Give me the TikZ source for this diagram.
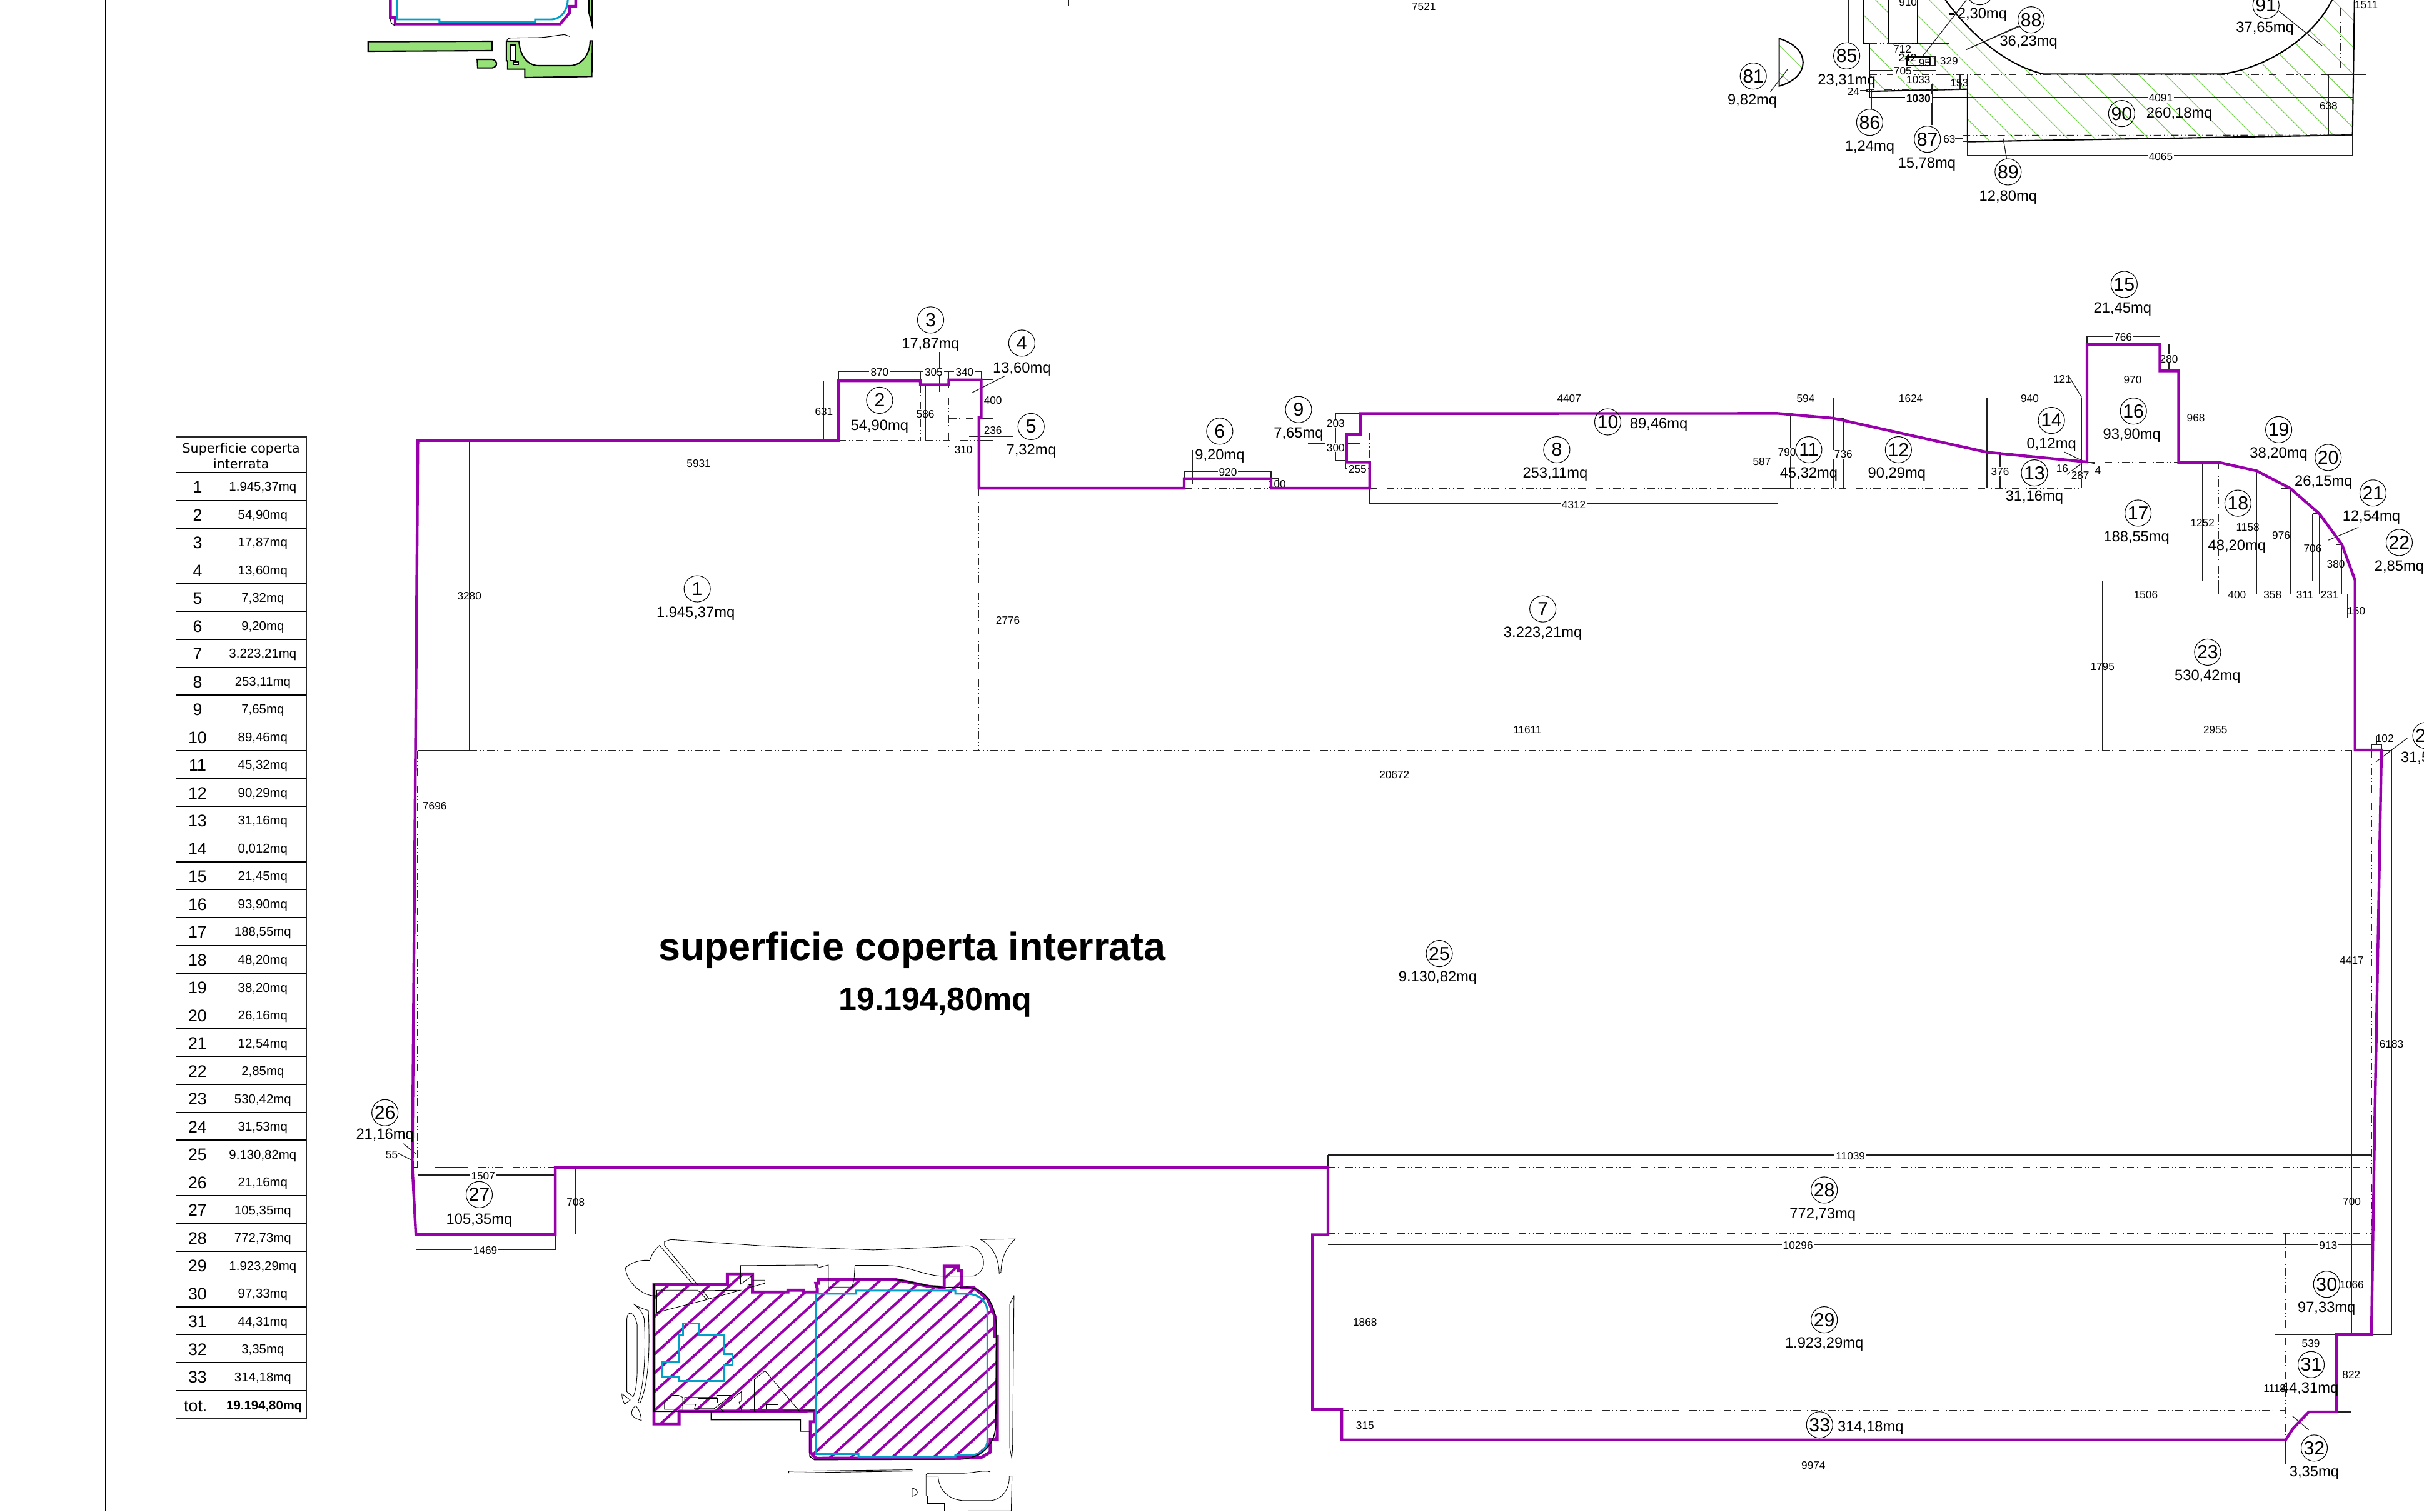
\documentclass[tikz,border=0pt]{standalone}
\usepackage{fontspec}
\setmainfont{Liberation Sans}
\newfontfamily\dejavufam{DejaVu Sans}
\definecolor{pur}{RGB}{152,0,172}
\definecolor{cya}{RGB}{0,160,200}
\definecolor{hgreen}{RGB}{110,210,70}
\definecolor{fgreen}{RGB}{150,225,120}
\tikzset{
 thinl/.style={line width=.33pt,black!88},
 ddl/.style={line width=.33pt,black!85,dash pattern=on 3.4pt off 1.3pt on .3pt off 1.3pt on .3pt off 1.3pt},
 purl/.style={line width=1.25pt,pur,line join=miter},
 cyal/.style={line width=.85pt,cya,line join=miter},
 blk/.style={line width=.6pt,black},
 numc/.style={circle,draw,line width=.3pt,inner sep=0pt,minimum size=.42cm,font=\fontsize{8.6}{9}\selectfont},
 vals/.style={yshift=-.55pt,inner sep=0pt,font=\fontsize{6.75}{8}\selectfont,text height=4.8pt,text depth=1.3pt},
 dimh/.style={yshift=-.3pt,fill=white,inner xsep=.6pt,inner ysep=.2pt,font=\fontsize{4.9}{6}\selectfont,text height=3.5pt,text depth=0pt},
 dimv/.style={yshift=-.3pt,inner sep=0pt,font=\fontsize{4.9}{6}\selectfont,text height=3.5pt,text depth=0pt},
 zone/.style={shift={(1071.75,0)},xscale=.31646,yscale=.13481},
 zten/.style={shift={(1193.08,0)},xscale=.13481,yscale=.13481},
 zfive/.style={shift={(384.2,788.6)},xscale=.18055,yscale=.13481},
 ztop/.style={shift={(202.2,0)},xscale=.15477,yscale=.13481},
}
\newcommand{\ncc}[3]{\node[numc] (n#3) at (#1,#2) {#3};}
\newcommand{\vtt}[3]{\node[vals] at (#1,#2) {#3};}
\newcommand{\dhz}[3]{\node[dimh] at (#1,#2) {#3};}
\newcommand{\dvt}[3]{\node[dimv] at (#1,#2) {#3};}
\begin{document}
\begin{tikzpicture}[x=.024726cm,y=-.024726cm]
\useasboundingbox (0,0) rectangle (1568,978);
\clip (0,0) rectangle (1568,978);
\draw[line width=.55pt,black] (68.5,0) -- (68.5,978);

% ---------- top-left fragment
\begin{scope}[ztop]
 \draw[purl] (325,-10) -- (325,85) -- (345,85) -- (345,115) -- (1035,115) -- (1075,60) -- (1075,30) -- (1100,30) -- (1100,-10);
 \draw[line width=.3pt] (325,90) .. controls (325,108) and (332,120) .. (345,122);
 \draw[cyal] (352,-10) -- (352,93) -- (530,93) -- (530,105) -- (930,105) -- (930,93) -- (1000,93) .. controls (1040,90) and (1067,50) .. (1067,-10);
 \draw[blk,fill=fgreen] (232,200) -- (750,198) -- (750,243) -- (232,246) -- cycle;
 \draw[blk,fill=fgreen] (688,285) -- (750,285) .. controls (775,290) and (775,322) .. (750,326) -- (690,326) -- cycle;
 \draw[blk,fill=fgreen] (810,198) -- (863,198) .. controls (865,260) and (895,315) .. (945,315) -- (1075,315) .. controls (1125,315) and (1160,260) .. (1160,196) -- (1170,196) -- (1167,367) -- (887,372) -- (887,332) -- (815,332) -- (815,292) -- (810,292) -- cycle;
 \draw[blk,fill=white] (828,215) rectangle (850,290);
 \draw[blk,fill=white] (840,298) rectangle (860,310);
 \draw[line width=.3pt] (812,198) .. controls (812,186) and (820,182) .. (830,182) -- (950,180) .. controls (990,178) and (1040,165) .. (1055,167) -- (1075,175);
 \draw[blk,fill=fgreen] (1155,-5) -- (1168,-5) -- (1168,118) -- (1155,60) -- cycle;
\end{scope}

% ---------- top-right fragment
\begin{scope}[zone]
 \begin{scope}
  \clip (423,-5) -- (423,210) -- (435,210) -- (435,438) -- (635,428) -- (635,680) -- (1422,648) -- (1428,-5) -- (1380,-5) -- (1380,0) .. controls (1340,190) and (1240,330) .. (1155,355) -- (790,355) .. controls (710,310) and (640,160) .. (590,0) -- (590,-5) -- cycle;
  \foreach \a in {60,115,...,1500} \draw[hgreen,line width=.3pt] (\a,-5) -- ({\a+298},695);
 \end{scope}
 \begin{scope}
  \clip (250,185) .. controls (315,230) and (315,370) .. (250,413) -- cycle;
  \foreach \a in {120,175,230,285} \draw[hgreen,line width=.3pt] (\a,170) -- ({\a+128},470);
 \end{scope}
 \draw[blk] (250,185) .. controls (315,230) and (315,370) .. (250,413) -- cycle;
 \draw[blk] (590,-5) -- (590,0) .. controls (640,160) and (710,310) .. (790,355) -- (1155,355) .. controls (1240,330) and (1340,190) .. (1380,0) -- (1381,-5);
 \draw[blk] (635,428) -- (635,680) -- (1422,648) -- (1426,-5);
 \draw[ddl] (625,650) -- (1422,648);
 \draw[ddl] (435,358) -- (1373,358);
 \draw[ddl] (1398,40) -- (1398,358);
 \draw[thinl] (1373,358) -- (1450,358) -- (1450,-5);
 \draw[thinl] (1373,358) -- (1373,648);
 \draw[thinl] (635,467) -- (1422,467);
 \draw[thinl] (635,680) -- (635,747) -- (1422,747) -- (1422,648);
 \draw[thinl] (625,650) rectangle (636,678);
 \draw[thinl] (610,665) -- (625,665);
 \draw[thinl] (708,665) -- (715,762);
 \draw[thinl] (743,125) -- (632,238);
 \draw[thinl] (1270,50) -- (1360,220);
 \draw[thinl] (267,333) -- (232,440);
 \draw[thinl] (392,0) -- (392,205);
 \dhz{1030}{467}{4091}\dhz{1030}{747}{4065}\dvt{1373}{505}{638}\dvt{598}{665}{63}\dvt{1450}{20}{1511}
 \ncc{197}{365}{81}\vtt{195}{478}{9,82mq}
 \ncc{388}{268}{85}\vtt{388}{383}{23,31mq}
 \ncc{435}{587}{86}\vtt{435}{700}{1,24mq}
 \ncc{553}{668}{87}\vtt{552}{782}{15,78mq}
 \ncc{718}{825}{89}\vtt{718}{940}{12,80mq}
 \ncc{765}{95}{88}\vtt{760}{197}{36,23mq}
 \vtt{665}{65}{2,30mq}
 \node[circle,draw,line width=.3pt,minimum size=.42cm,inner sep=0pt] (cut) at (660,-40) {};
 \ncc{1245}{25}{91}\vtt{1243}{130}{37,65mq}
 \ncc{950}{545}{90}\vtt{1068}{540}{260,18mq}
\end{scope}
\begin{scope}[zten]
 \draw[blk] (90,-5) -- (90,210) -- (120,210) -- (120,468) -- (590,468);
 \draw[blk] (130,438) -- (590,428);
 \draw[blk,fill=white] (213,-5) -- (213,210) -- (350,210) -- (350,-5);
 \draw[thinl] (305,-5) -- (305,210);
 \draw[ddl] (120,210) -- (500,210);
 \draw[ddl] (440,-5) -- (440,230);
 \draw[ddl] (108,430) -- (590,430);
 \draw[thinl] (350,210) -- (502,210) -- (502,358) -- (440,358) -- (440,338) -- (120,338);
 \draw[thinl] (120,230) -- (440,230);
 \draw[thinl] (120,373) -- (590,373);
 \draw[thinl] (555,358) -- (555,430);
 \draw[thinl] (590,358) -- (590,430);
 \draw[blk,line width=.8pt] (300,272) rectangle (413,315);
 \draw[thinl] (413,272) rectangle (435,315);
 \draw[thinl] (108,428) rectangle (130,440);
 \draw[thinl] (75,433) -- (108,433);
 \draw[thinl] (130,440) -- (130,525);
 \draw[thinl] (420,405) -- (420,600);
 \draw[thinl] (75,260) -- (135,260);
 \draw[thinl] (585,0) -- (375,270);
 \draw[blk,line width=.8pt] (500,67) -- (525,67);
 \draw[thinl] (835,125) -- (585,238);
 \dvt{305}{8}{910}
 \dhz{278}{232}{712}\dvt{303}{275}{242}\dvt{385}{297}{95}\dhz{502}{288}{329}\dhz{280}{338}{705}\dhz{355}{378}{1033}\dvt{552}{395}{153}\dvt{43}{436}{24}
 \node[dimh,font=\fontsize{5}{6}\selectfont\bfseries] at (355,468) {1030};
\end{scope}
\draw[thinl] (691,-5) -- (691,3.8) -- (1150,3.8) -- (1150,-5);
\dhz{921}{3.8}{7521}

% ---------- long thin dimension lines of the main plan
\draw[thinl] (270,299.5) -- (633,299.5);
\draw[thinl] (281.2,285) -- (281.2,755.5) -- (300,755.5);
\draw[thinl] (303.6,285) -- (303.6,485.5);
\draw[ddl] (270,485.5) -- (1523.4,485.5);
\draw[thinl] (270,485.5) -- (303.6,485.5);
\draw[thinl] (269.5,501) -- (1534,501);
\draw[thinl] (633,471.6) -- (1523.4,471.6);
\draw[ddl] (633,316) -- (633,485.5);
\draw[thinl] (652,316) -- (652,485.5);
\draw[ddl] (270,486) -- (270,755.5);
\draw[ddl] (1534.1,485.5) -- (1534.1,863.5);
\draw[thinl] (1521.3,485.5) -- (1521.3,863.5);
\draw[thinl] (1547,485.5) -- (1547,863.5) -- (1534,863.5);
\draw[thinl] (1523.4,485.5) -- (1547,485.5);
\draw[thinl] (1534.1,482) rectangle (1540.5,485.5);
\draw[thinl] (1537.3,476.5) -- (1537.3,482);
\draw[thinl] (1557.3,477.5) -- (1536.9,493);

% block 2-5
\draw[ddl] (542.4,285) -- (633,285);
\draw[ddl] (595.4,249) -- (595.4,285);
\draw[ddl] (613.8,246) -- (613.8,290.5);
\draw[ddl] (613.8,270.6) -- (634,270.6);
\draw[thinl] (542.4,246.4) -- (542.4,240.2) -- (634.7,240.2) -- (634.7,245.8);
\draw[thinl] (595.4,240.2) -- (595.4,246.4);
\draw[thinl] (613.8,240.2) -- (613.8,245.8);
\draw[thinl] (542.4,246.4) -- (533,246.4) -- (533,285) -- (542.4,285);
\draw[thinl] (598.6,249) -- (598.6,285);
\draw[thinl] (607.5,227.8) -- (607.5,253.5);
\draw[thinl] (634.7,245.8) -- (642.3,245.8) -- (642.3,285) -- (633,285);
\draw[thinl] (634,270.6) -- (642.3,270.6);
\draw[thinl] (627,282.6) -- (655.6,282.6);
\draw[thinl] (613.8,290.5) -- (633,290.5);
\draw[thinl] (650,243.3) -- (629,254);
\dhz{569}{240.2}{870}\dhz{604}{240.2}{305}\dhz{624}{240.2}{340}
\dvt{533}{266}{631}\dvt{598.6}{267.4}{586}\dhz{642.3}{258.5}{400}\dhz{642.3}{278}{236}\dhz{623.3}{290.5}{310}

% block 6,9
\draw[ddl] (766,316) -- (822,316);
\draw[thinl] (766,309.7) -- (766,305) -- (822.2,305) -- (822.2,309.7) -- (827,309.7) -- (827,316);
\draw[thinl] (771.3,291) -- (771.3,313.6);
\draw[thinl] (880,267.6) -- (864,267.6) -- (864,298) -- (871,298);
\draw[thinl] (864,280) -- (871,280);
\draw[thinl] (846,287) -- (879.7,287);
\draw[thinl] (870.5,299) -- (870.5,303) -- (886,303);
\dhz{794.3}{305}{920}\dvt{826}{312.8}{100}\dhz{864}{273.7}{203}\dhz{864}{289.2}{300}\dhz{878.2}{303}{255}

% block 7,8,10..14
\draw[thinl] (880,267.6) -- (880,257.3) -- (1346.5,257.3);
\draw[ddl] (886,280) -- (1150,280);
\draw[ddl] (886,280) -- (886,316);
\draw[ddl] (886,316) -- (1346.5,316);
\draw[thinl] (886,316) -- (886,326) -- (1150,326) -- (1150,316);
\draw[ddl] (1150,267.5) -- (1150,316);
\draw[thinl] (1150,257.3) -- (1150,267.5);
\draw[thinl] (1140.4,280) -- (1140.4,316);
\draw[thinl] (1140.4,316) -- (1158,316);
\draw[thinl] (1158,267.5) -- (1158,316);
\draw[thinl] (1186,257.3) -- (1186,316);
\draw[thinl] (1186,270.6) -- (1192.4,270.6) -- (1192.4,316);
\draw[thinl] (1285.3,257.3) -- (1285.3,316);
\draw[thinl] (1293.8,292.6) -- (1293.8,316);
\draw[thinl] (1342.8,257.3) -- (1342.8,316);
\draw[thinl] (1346.5,257.3) -- (1346.5,316);
\draw[thinl] (1338,243) -- (1346.5,257);
\draw[thinl] (1335.4,292.5) -- (1348,298.6);
\draw[thinl] (1337,307) -- (1348,298.6);
\draw[thinl] (1350,298.9) -- (1355,300);
\dhz{1015}{257.3}{4407}\dhz{1168}{257.3}{594}\dhz{1236}{257.3}{1624}\dhz{1313}{257.3}{940}\dvt{1334}{245}{121}
\dhz{1018}{326}{4312}\dvt{1139.7}{298}{587}\dhz{1155.9}{292}{790}\dhz{1192.4}{293.5}{736}\dhz{1293.8}{304.6}{376}
\dvt{1334}{302.6}{16}\dhz{1345.6}{307}{287}\dvt{1357}{303.8}{4}

% block 15..23
\draw[ddl] (1350,240) -- (1397,240);
\draw[ddl] (1350,299.3) -- (1409,299.3);
\draw[thinl] (1350,222.7) -- (1350,217.6) -- (1397.1,217.6) -- (1397.1,222.7) -- (1403,222.7) -- (1403,240) -- (1397,240);
\draw[thinl] (1350,245.4) -- (1409.3,245.4);
\draw[thinl] (1409.3,240) -- (1420.4,240) -- (1420.4,299.1);
\draw[thinl] (1424.7,299.1) -- (1424.7,376);
\draw[ddl] (1435,299) -- (1435,376);
\draw[thinl] (1435,376) -- (1435,384.4);
\draw[thinl] (1454,304.6) -- (1454,376);
\draw[thinl] (1459.6,304.6) -- (1459.6,384.4);
\draw[thinl] (1475.6,315.9) -- (1475.6,376);
\draw[thinl] (1481.4,315.9) -- (1481.4,384.4);
\draw[thinl] (1496,332.4) -- (1496,376);
\draw[thinl] (1500.3,332.4) -- (1500.3,384.4);
\draw[thinl] (1511,352.3) -- (1511,376);
\draw[thinl] (1514.9,352.3) -- (1514.9,384.4);
\draw[thinl] (1475.6,315.9) -- (1481.4,315.9) (1496,332.4) -- (1500.3,332.4) (1511,352.3) -- (1514.9,352.3);
\draw[thinl] (1471.4,300.6) -- (1471.4,324.6);
\draw[thinl] (1491,317) -- (1491,337);
\draw[thinl] (1525.6,341.2) -- (1506.2,349.5);
\draw[thinl] (1517.8,372.7) -- (1554,372.7);
\draw[ddl] (1343,316) -- (1343,376);
\draw[ddl] (1343,376) -- (1523.6,376);
\draw[thinl] (1343,376) -- (1360,376) -- (1360,485.5);
\draw[thinl] (1343,384.4) -- (1518.4,384.4) -- (1518.4,400);
\draw[ddl] (1343,384.4) -- (1343,485.5);
\dhz{1373.3}{217.6}{766}\dhz{1379.5}{245.4}{970}\dhz{1403}{231.7}{280}\dhz{1420.4}{269.7}{968}
\dvt{1424.7}{337.7}{1252}\dvt{1454}{340.7}{1158}\dvt{1475.6}{346}{976}\dvt{1496}{354.4}{706}\dvt{1511}{364.4}{380}
\dhz{1388}{384.4}{1506}\dhz{1447}{384.4}{400}\dhz{1470}{384.4}{358}\dhz{1491}{384.4}{311}\dhz{1507}{384.4}{231}\dvt{1524.2}{394.7}{150}

% bottom
\draw[thinl] (859,747.4) -- (1534,747.4);
\draw[thinl] (859,747.4) -- (859,755.5);
\draw[ddl] (359,755.5) -- (300,755.5);
\draw[ddl] (859,755.5) -- (1534,755.5);
\draw[ddl] (859,798) -- (1534,798);
\draw[thinl] (859,805.5) -- (1534,805.5);
\draw[thinl] (883,798.7) -- (883,931.7);
\draw[ddl] (868,912.8) -- (1478.3,912.8);
\draw[ddl] (1478.3,798) -- (1478.3,931.7);
\draw[thinl] (1478.3,798) -- (1478.3,805.5);
\draw[thinl] (1471.4,931.7) -- (1471.4,863.5) -- (1511,863.5);
\draw[thinl] (1478.3,869) -- (1511,869);
\draw[thinl] (1511,913.6) -- (1521,913.6) -- (1521,863.5);
\draw[thinl] (868,931.7) -- (868,947.5) -- (1478.3,947.5) -- (1478.3,931.7);
\draw[thinl] (1483,916.4) -- (1493.4,925.2);
\draw[thinl] (270,760.3) -- (358.6,760.3);
\draw[thinl] (269,798.7) -- (269,808.5) -- (359.2,808.5) -- (359.2,798.7);
\draw[thinl] (359.2,755.5) -- (372.4,755.5) -- (372.4,798.7) -- (359.2,798.7);
\draw[thinl] (260.9,740) -- (269.3,746.9);
\draw[thinl] (257.5,746.2) -- (266.1,750.6);
\draw[thinl] (267.6,751.4) rectangle (270,755.5);
\dvt{281.2}{521}{7696}
\dvt{303.6}{385}{3280}\dhz{452}{299.5}{5931}\dhz{902}{501}{20672}\dhz{988}{471.6}{11611}\dhz{1433}{471.6}{2955}\dvt{652}{401}{2776}\dvt{1360}{431}{1795}
\dvt{1542.6}{477.2}{102}\dvt{1521.3}{621}{4417}\dvt{1547}{675}{6183}\dvt{1521.3}{777}{700}
\dhz{1197}{747.4}{11039}\dhz{1163}{805.5}{10296}\dhz{1506}{805.5}{913}\dvt{1521.3}{831}{1066}\dhz{1494.8}{869}{539}\dvt{1521}{889}{822}\dvt{1471.4}{898}{1118}
\dvt{883}{855}{1868}\dvt{883}{922}{315}\dhz{1173}{947.5}{9974}
\dhz{312.5}{760.3}{1507}\dhz{313.9}{808.5}{1469}\dvt{372.4}{777.4}{708}\dvt{253.4}{746.6}{55}

% purple outline
\draw[purl] (270.3,285) -- (542.4,285) -- (542.4,246.4) -- (595.4,246.4) -- (595.4,249) -- (613.8,249) -- (613.8,245.8) -- (634.7,245.8) -- (634.7,270.3) -- (633.3,270.3) -- (633.3,315.9) -- (766,315.9) -- (766,309.7) -- (822.2,309.7) -- (822.2,315.9) -- (886,315.9) -- (886,299) -- (871,299) -- (871,281) -- (880,281) -- (880,267.6) -- (1150,267.5) -- (1186,270.6) -- (1285.3,292.6) -- (1350,298.9) -- (1350,222.7) -- (1397.1,222.7) -- (1397.1,240) -- (1409.3,240) -- (1409.3,299.1) -- (1435,299.1) -- (1459.6,304.6) -- (1481.4,315.9) -- (1500.3,332.4) -- (1514.9,352.3) -- (1523.4,375.4) -- (1523.4,485.3) -- (1540.5,485.3) -- (1536.1,728) -- (1534,863.5) -- (1511.2,863.5) -- (1511.4,913.6) -- (1493.5,913.6) -- (1483.5,924) -- (1478.5,931.7) -- (868,931.7) -- (868,912) -- (849,912) -- (849,799) -- (859,799) -- (859,755.5) -- (359.2,755.5) -- (359.2,798.7) -- (269,798.7) -- (266.7,755) -- cycle;

% labels of the main plan
\ncc{451}{381}{1}\vtt{450}{396}{1.945,37mq}
\ncc{569}{259}{2}\vtt{569}{275}{54,90mq}
\ncc{602}{207}{3}\vtt{602}{222}{17,87mq}
\ncc{661}{222}{4}\vtt{661}{238}{13,60mq}
\ncc{667}{276}{5}\vtt{667}{291}{7,32mq}
\ncc{789}{279}{6}\vtt{789}{294}{9,20mq}
\ncc{998}{394}{7}\vtt{998}{409}{3.223,21mq}
\ncc{1007}{291}{8}\vtt{1006}{306}{253,11mq}
\ncc{840}{265}{9}\vtt{840}{280}{7,65mq}
\ncc{1040}{273}{10}\vtt{1073}{274}{89,46mq}
\ncc{1170}{291}{11}\vtt{1170}{306}{45,32mq}
\ncc{1228}{291}{12}\vtt{1227}{306}{90,29mq}
\ncc{1316}{306}{13}\vtt{1316}{321}{31,16mq}
\ncc{1327}{272}{14}\vtt{1327}{287}{0,12mq}
\ncc{1374}{184}{15}\vtt{1373}{199}{21,45mq}
\ncc{1380}{266}{16}\vtt{1379}{281}{93,90mq}
\ncc{1383}{332}{17}\vtt{1382}{347}{188,55mq}
\ncc{1447.6}{325.6}{18}\vtt{1447}{353}{48,20mq}
\ncc{1474}{278}{19}\vtt{1474}{293}{38,20mq}
\ncc{1506}{296}{20}\vtt{1503}{311}{26,15mq}
\ncc{1535}{319}{21}\vtt{1534}{334}{12,54mq}
\ncc{1552}{351}{22}\vtt{1552}{366}{2,85mq}
\ncc{1428}{422}{23}\vtt{1428}{437}{530,42mq}
\ncc{1569.2}{475.9}{24}\vtt{1571.7}{490}{31,53mq}
\ncc{931}{617}{25}\vtt{930}{632}{9.130,82mq}
\ncc{249}{720}{26}\vtt{249}{734}{21,16mq}
\ncc{310}{773}{27}\vtt{310}{789}{105,35mq}
\ncc{1180}{770}{28}\vtt{1179}{785}{772,73mq}
\ncc{1180}{854}{29}\vtt{1180}{869}{1.923,29mq}
\ncc{1505}{831}{30}\vtt{1505}{846}{97,33mq}
\ncc{1495}{883}{31}\vtt{1494}{898}{44,31mq}
\ncc{1497}{937}{32}\vtt{1497}{952}{3,35mq}
\ncc{1177}{922}{33}\vtt{1210}{923}{314,18mq}

\node[inner sep=0pt,font=\fontsize{17.9}{20}\selectfont\bfseries] (title) at (590,615) {superficie coperta interrata};
\node[inner sep=0pt,font=\fontsize{14.8}{17}\selectfont\bfseries] (total) at (605,648.5) {19.194,80mq};

% ---------- table
\draw[line width=.4pt,black!85] (113.9,282.7) rectangle (198.2,917.7);
\draw[line width=.4pt,black!70] (141.8,305.7) -- (141.8,917.7);
\node[inner sep=0pt,align=center,font=\dejavufam\fontsize{5.85}{7.1}\selectfont] (thead) at (156,294.8) {Superficie coperta\\interrata};
\foreach \vv [count=\kk] in {{1.945,37mq},{54,90mq},{17,87mq},{13,60mq},{7,32mq},{9,20mq},{3.223,21mq},{253,11mq},{7,65mq},{89,46mq},{45,32mq},{90,29mq},{31,16mq},{0,012mq},{21,45mq},{93,90mq},{188,55mq},{48,20mq},{38,20mq},{26,16mq},{12,54mq},{2,85mq},{530,42mq},{31,53mq},{9.130,82mq},{21,16mq},{105,35mq},{772,73mq},{1.923,29mq},{97,33mq},{44,31mq},{3,35mq},{314,18mq}}{
  \pgfmathsetmacro{\ya}{305.7+(\kk-1)*18}
  \pgfmathsetmacro{\ym}{\ya+10}
  \draw[line width=.4pt,black] (113.9,\ya) -- (198.2,\ya);
  \node[inner sep=0pt,font=\fontsize{7.6}{8}\selectfont] (tn\kk) at (127.8,\ym-.5) {\kk};
  \node[inner sep=0pt,font=\fontsize{5.8}{7}\selectfont,text height=4pt,text depth=1pt] (tv\kk) at (170,\ym) {\vv};
}
\draw[line width=.4pt,black] (113.9,899.7) -- (198.2,899.7);
\node[inner sep=0pt,font=\fontsize{7.6}{8}\selectfont] (ttot) at (126.5,910) {tot.};
\node[inner sep=0pt,font=\fontsize{5.8}{7}\selectfont\bfseries] (ttotv) at (171,910) {19.194,80mq};

% ---------- bottom key plan
\begin{scope}[zfive]
 \begin{scope}
  \clip (215,315) -- (478,315) -- (478,265) -- (568,265) -- (568,352) -- (695,352) -- (695,343) -- (750,343) -- (750,352) -- (800,352) -- (800,335) -- (795,310) -- (805,310) -- (805,290) -- (1070,290) -- (1130,305) -- (1200,325) -- (1255,330) -- (1255,228) -- (1305,228) -- (1305,248) -- (1317,248) -- (1317,330) -- (1360,330) -- (1410,385) -- (1437,470) -- (1437,565) -- (1445,565) -- (1445,1060) -- (1420,1060) -- (1420,1120) -- (1385,1148) -- (795,1150) -- (775,1120) -- (775,975) -- (790,975) -- (790,922) -- (305,925) -- (305,985) -- (215,985) -- cycle;
  \foreach \a in {-900,-826,...,1500} \draw[pur,line width=1.15pt] (\a,1200) -- ({\a+943},50);
 \end{scope}
 \draw[pur,line width=1.4pt] (215,315) -- (478,315) -- (478,265) -- (568,265) -- (568,352) -- (695,352) -- (695,343) -- (750,343) -- (750,352) -- (800,352) -- (800,335) -- (795,310) -- (805,310) -- (805,290) -- (1070,290) -- (1130,305) -- (1200,325) -- (1255,330) -- (1255,228) -- (1305,228) -- (1305,248) -- (1317,248) -- (1317,330) -- (1360,330) -- (1410,385) -- (1437,470) -- (1437,565) -- (1445,565) -- (1445,1060) -- (1420,1060) -- (1420,1120) -- (1385,1148) -- (795,1150) -- (775,1120) -- (775,975) -- (790,975) -- (790,922) -- (305,925) -- (305,985) -- (215,985) -- cycle;
 \draw[cyal] (795,360) -- (938,360) -- (938,345) -- (1295,345) -- (1295,360) -- (1340,360) .. controls (1385,365) and (1410,400) .. (1410,450) -- (1410,1060) .. controls (1410,1105) and (1385,1135) .. (1345,1135) -- (1295,1135) -- (1295,1145) -- (948,1145) -- (948,1130) -- (795,1130) -- cycle;
 \draw[cyal] (320,503) -- (378,503) -- (378,558) -- (468,558) -- (468,650) -- (497,650) -- (497,700) -- (468,700) -- (468,780) -- (303,780) -- (303,758) -- (243,758) -- (243,687) -- (303,687) -- (303,558) -- (320,558) -- cycle;
 % black outline
 \draw[line width=.45pt] (215,315) -- (215,925) -- (420,925) -- (420,965) -- (740,965) -- (740,1020) -- (773,1020) -- (773,1140) -- (790,1157) -- (1300,1155) .. controls (1380,1155) and (1435,1100) .. (1440,990) -- (1442,520) .. controls (1440,420) and (1410,340) .. (1340,328) -- (1255,330) -- (1200,322) .. controls (1150,310) and (1100,290) .. (1060,290) -- (935,290);
 \draw[line width=.45pt] (420,925) -- (790,922);
 \draw[line width=.45pt] (935,225) -- (1055,225);
 % thin site lines
 \begin{scope}[line width=.25pt]
  \draw (372,318) -- (253,128) -- (253,110) -- (275,100) -- (600,130) -- (1000,150) -- (1340,130) .. controls (1400,135) and (1420,250) .. (1360,275) -- (1310,275) -- (1240,275) .. controls (1180,270) and (1120,225) .. (1055,225);
  \draw (355,315) -- (235,128) .. controls (215,150) and (205,180) .. (200,200) .. controls (160,195) and (130,215) .. (113,235) .. controls (115,300) and (170,370) .. (218,370);
  \draw (225,343) -- (372,343) -- (405,388) -- (225,450) -- cycle;
  \draw (390,345) -- (525,343) -- (412,385) -- cycle;
  \draw (525,315) -- (525,225) -- (800,222) -- (803,235) -- (840,222) -- (840,328) -- (925,328) -- (932,290) -- (935,225);
  \draw (525,315) -- (570,270) -- (570,350);
  \draw (568,295) -- (612,295) -- (612,310) -- (552,332) -- (552,318) -- (568,315);
  \draw (575,925) -- (575,770) -- (613,730) -- (737,925);
  \draw (618,915) rectangle (660,893);
  \draw (253,915) -- (253,880) -- (278,848) -- (303,848) -- (318,857) -- (318,915) -- cycle;
  \draw (325,858) -- (440,858) -- (440,848) -- (492,848) -- (430,912) -- (360,912) -- (365,890) -- (325,890) -- cycle;
  \draw (373,862) rectangle (443,885);
  \draw (452,912) -- (528,830) -- (528,875) -- (520,880) -- (530,925) -- (465,925) -- cycle;
  \draw (140,408) .. controls (160,425) and (180,435) .. (195,440) .. controls (200,600) and (200,780) .. (165,885) -- (158,880) .. controls (185,780) and (185,600) .. (180,480) .. controls (175,450) and (160,425) .. (140,408);
  \draw (118,830) -- (118,480) .. controls (120,440) and (145,440) .. (155,510) -- (155,720) .. controls (155,780) and (150,830) .. (140,855) -- cycle;
  \draw (100,840) -- (130,870) -- (110,890) .. controls (105,875) and (100,860) .. (100,840);
  \draw (150,898) .. controls (165,920) and (168,945) .. (170,968) .. controls (150,960) and (135,950) .. (135,935) .. controls (135,920) and (140,905) .. (150,898);
  \draw (1505,368) -- (1490,410) -- (1490,1100) -- (1497,1150) -- (1500,1100) -- (1505,368);
  \draw (1385,100) -- (1510,97) .. controls (1475,140) and (1460,190) .. (1458,258) -- (1452,262) .. controls (1450,190) and (1430,130) .. (1385,100);
  \draw (698,1212) -- (1140,1205) -- (1140,1211) -- (698,1220) -- cycle;
  \draw (1140,1293) .. controls (1165,1300) and (1165,1325) .. (1140,1333) -- cycle;
  \draw (1190,1330) -- (1190,1230) .. controls (1190,1225) and (1195,1222) .. (1200,1222) -- (1320,1222) .. controls (1360,1220) and (1400,1205) .. (1420,1215);
  \draw (1190,1235) -- (1233,1235) .. controls (1235,1300) and (1270,1353) .. (1330,1353) -- (1420,1353) .. controls (1460,1350) and (1490,1300) .. (1488,1235) -- (1498,1235) -- (1495,1402) -- (1340,1402);
  \draw (1190,1330) -- (1195,1330) -- (1195,1368) -- (1255,1368) -- (1255,1404);
  \draw (1195,1355) -- (1330,1355);
 \end{scope}
\end{scope}
\end{tikzpicture}
\end{document}
